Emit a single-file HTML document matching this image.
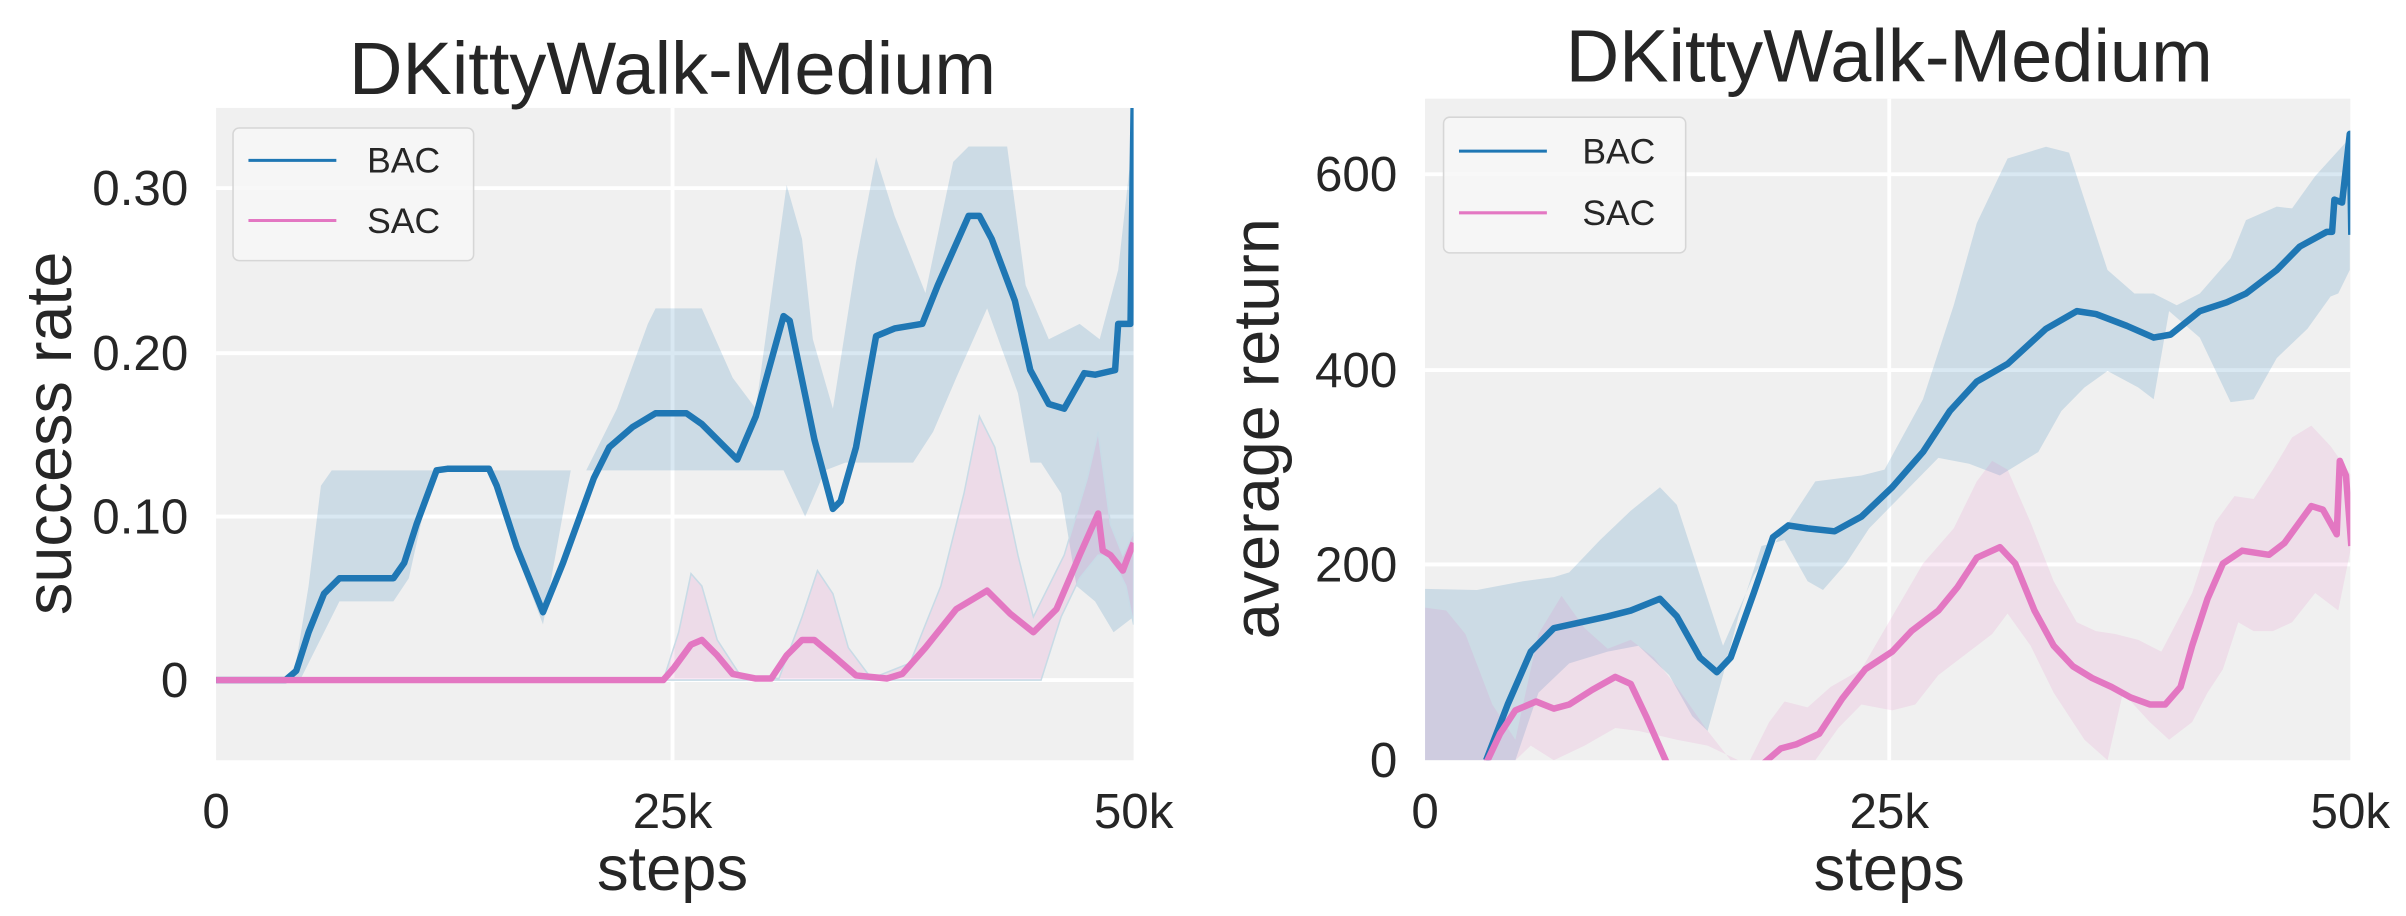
<!DOCTYPE html>
<html><head><style>html,body{margin:0;padding:0;background:#fff}svg{display:block}</style></head>
<body>
<svg width="2406" height="916" viewBox="0 0 1560 594" xmlns="http://www.w3.org/2000/svg" font-family="Liberation Sans, DejaVu Sans, sans-serif" fill="#262626">
<defs>
<clipPath id="c1"><rect x="140" y="70" width="595" height="423"/></clipPath>
<clipPath id="c2"><rect x="924" y="64" width="600" height="429"/></clipPath>
</defs>
<!-- left plot -->
<rect x="140" y="70" width="595" height="423" fill="#f0f0f0"/>
<g stroke="#fff" stroke-width="2.5">
<line x1="140" x2="735" y1="122" y2="122"/><line x1="140" x2="735" y1="229" y2="229"/>
<line x1="140" x2="735" y1="335" y2="335"/><line x1="140" x2="735" y1="441" y2="441"/>
<line x1="436" x2="436" y1="70" y2="493"/>
</g>
<g clip-path="url(#c1)">
<path fill="#1f77b4" fill-opacity="0.17" d="M140,441 L190,441 200,380 208,315 215,305 300,305 380,305 400,265 420,210 425,200 455,200 475,245 490,265 510,120 520,155 527,220 540,265 555,170 568,102 580,140 600,190 618,105 628,95 653,95 665,185 680,220 700,210 713,220 725,175 735,85 L735,400 722,410 710,390 698,380 688,320 675,300 668,300 660,255 640,200 620,245 605,280 592,300 548,300 535,305 522,335 508,305 455,305 370,305 352,405 335,360 320,305 285,305 275,330 265,375 255,390 220,390 205,420 195,440 140,441Z"/>
<path fill="#e377c2" fill-opacity="0.17" stroke="#c8dbe6" stroke-width="1" d="M140,441 L430,441 440,410 448,372 455,380 465,415 480,438 505,440 520,400 530,370 540,385 550,420 565,440 590,430 610,380 625,320 635,270 645,290 660,360 670,400 690,360 705,310 712,280 720,340 728,360 735,345 L735,405 730,380 720,360 712,360 700,375 688,400 675,441 540,441 525,441 430,441Z"/>
<path fill="none" stroke="#1f77b4" stroke-width="4.2" stroke-linejoin="round" d="M140,441 L185,441 192,435 200,410 210,385 220,375 255,375 262,365 270,340 283,305 290,304 317,304 322,315 335,355 352,397 365,365 385,310 395,290 410,277 425,268 445,268 455,275 478,298 490,270 508,205 512,208 528,285 540,330 545,325 555,290 568,218 580,213 598,210 608,185 628,140 635,140 643,155 658,195 668,240 680,262 690,265 703,242 710,243 723,240 725,210 733,210 735,70 735,195"/>
<path fill="none" stroke="#e377c2" stroke-width="4.2" stroke-linejoin="round" d="M140,441 L430,441 437,433 448,418 455,415 465,425 475,437 490,440 500,440 510,425 520,415 528,415 540,425 555,438 575,440 585,437 600,420 620,395 640,383 655,398 670,410 685,395 700,360 712,333 715,357 720,360 728,370 731,362 735,352"/>
</g>
<rect x="151" y="83" width="156" height="86" rx="4" fill="#f7f7f7" fill-opacity="0.85" stroke="#d6d6d6"/>
<line x1="161" x2="218" y1="104" y2="104" stroke="#1f77b4" stroke-width="2"/>
<line x1="161" x2="218" y1="143" y2="143" stroke="#e377c2" stroke-width="2"/>
<text x="238" y="112" font-size="23">BAC</text><text x="238" y="151" font-size="23">SAC</text>
<g font-size="32" text-anchor="end">
<text x="122" y="133">0.30</text><text x="122" y="240">0.20</text><text x="122" y="346">0.10</text><text x="122" y="452">0</text>
</g>
<g font-size="32" text-anchor="middle">
<text x="140" y="537">0</text><text x="436" y="537">25k</text><text x="735" y="537">50k</text>
</g>
<text x="436" y="61" font-size="48" text-anchor="middle">DKittyWalk-Medium</text>
<text x="436" y="577" font-size="41" text-anchor="middle">steps</text>
<text transform="translate(46,281) rotate(-90)" font-size="42" text-anchor="middle">success rate</text>

<!-- right plot -->
<rect x="924" y="64" width="600" height="429" fill="#f0f0f0"/>
<g stroke="#fff" stroke-width="2.5">
<line x1="924" x2="1524" y1="113" y2="113"/><line x1="924" x2="1524" y1="240" y2="240"/>
<line x1="924" x2="1524" y1="366" y2="366"/>
<line x1="1225" x2="1225" y1="64" y2="493"/>
</g>
<g clip-path="url(#c2)">
<g transform="matrix(0.4987 0 0 0.3807 778.1 0)">
<path fill="#1f77b4" fill-opacity="0.17" d="M292,1003 L360,1005 420,990 460,983 480,975 520,920 560,870 598,830 620,860 650,980 680,1100 720,980 760,900 800,820 860,810 890,800 940,680 980,520 1010,380 1050,270 1100,250 1130,260 1160,380 1180,460 1215,500 1240,500 1270,520 1300,500 1340,440 1360,375 1400,352 1420,355 1450,300 1495,235 L1495,460 1480,500 1470,505 1440,560 1400,610 1370,680 1340,685 1320,630 1300,575 1260,530 1240,680 1220,660 1180,632 1150,660 1120,700 1090,770 1040,810 1000,790 960,780 930,820 900,860 870,900 840,960 810,1005 790,990 760,920 730,930 700,1050 680,1150 660,1245 640,1220 610,1150 570,1100 530,1110 480,1130 440,1180 410,1295 292,1295Z"/>
<path fill="#e377c2" fill-opacity="0.15" d="M292,1035 L320,1040 345,1080 380,1200 410,1260 440,1080 470,1015 500,1070 530,1105 560,1090 590,1120 620,1170 660,1245 690,1295 715,1295 740,1230 760,1195 790,1205 820,1170 860,1140 900,1050 940,960 980,900 1010,820 1030,785 1050,800 1080,890 1110,990 1140,1060 1165,1075 1190,1080 1220,1090 1250,1110 1290,1010 1320,890 1345,845 1370,850 1395,800 1420,745 1445,725 1470,760 1497,810 L1497,930 1480,1040 1450,1010 1420,1060 1395,1075 1370,1075 1350,1060 1330,1140 1310,1180 1290,1230 1260,1260 1235,1230 1200,1180 1180,1295 1150,1260 1110,1180 1080,1100 1050,1045 1030,1080 1000,1110 960,1150 930,1200 900,1210 860,1200 830,1240 800,1295 700,1295 660,1270 620,1260 570,1245 540,1240 500,1270 460,1295 430,1270 410,1295 292,1295Z"/>
<path fill="none" stroke="#1f77b4" stroke-width="6.5" vector-effect="non-scaling-stroke" stroke-linejoin="round" d="M372,1295 L400,1200 430,1110 460,1070 530,1050 560,1040 598,1020 620,1050 650,1120 672,1145 690,1120 720,1010 745,915 765,895 790,900 825,905 860,880 900,830 940,770 975,700 1010,650 1050,620 1100,560 1140,530 1165,535 1205,555 1240,575 1262,570 1300,530 1335,515 1360,500 1400,460 1430,420 1465,395 1472,395 1475,340 1485,345 1495,228 1497,400"/>
<path fill="none" stroke="#e377c2" stroke-width="6.5" vector-effect="non-scaling-stroke" stroke-linejoin="round" d="M372,1300 L390,1250 410,1210 437,1195 460,1207 480,1200 510,1175 540,1153 560,1165 580,1220 607,1300 M733,1300 L755,1275 775,1268 805,1250 835,1190 865,1140 900,1110 925,1075 960,1040 985,1000 1010,950 1040,932 1060,960 1085,1040 1110,1100 1135,1135 1160,1155 1185,1170 1210,1188 1235,1200 1255,1200 1275,1170 1290,1100 1310,1020 1330,960 1355,938 1390,945 1410,925 1435,880 1445,862 1460,868 1478,910 1482,785 1490,810 1497,930"/>
</g>
</g>
<rect x="936" y="76" width="157" height="88" rx="4" fill="#f7f7f7" fill-opacity="0.85" stroke="#d6d6d6"/>
<line x1="946" x2="1003" y1="98" y2="98" stroke="#1f77b4" stroke-width="2"/>
<line x1="946" x2="1003" y1="138" y2="138" stroke="#e377c2" stroke-width="2"/>
<text x="1026" y="106" font-size="23">BAC</text><text x="1026" y="146" font-size="23">SAC</text>
<g font-size="32" text-anchor="end">
<text x="906" y="124">600</text><text x="906" y="251">400</text><text x="906" y="377">200</text><text x="906" y="504">0</text>
</g>
<g font-size="32" text-anchor="middle">
<text x="924" y="537">0</text><text x="1225" y="537">25k</text><text x="1524" y="537">50k</text>
</g>
<text x="1225" y="53" font-size="48" text-anchor="middle">DKittyWalk-Medium</text>
<text x="1225" y="577" font-size="41" text-anchor="middle">steps</text>
<text transform="translate(829,278) rotate(-90)" font-size="42" text-anchor="middle">average return</text>
</svg>
</body></html>
